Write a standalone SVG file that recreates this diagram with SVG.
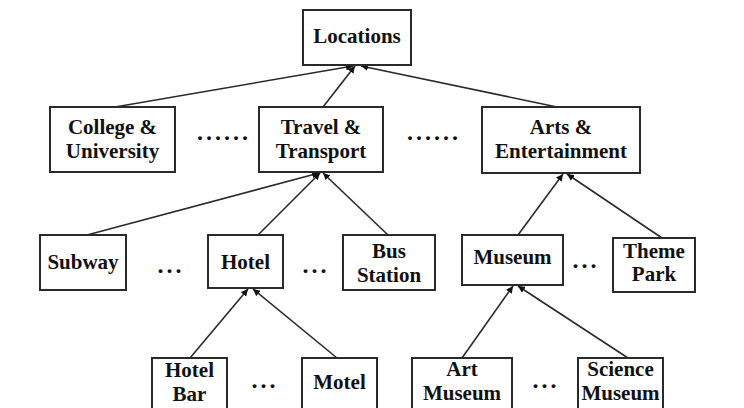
<svg xmlns="http://www.w3.org/2000/svg" width="744" height="408" viewBox="0 0 744 408">
<defs>
<style>
.box{fill:#fff;stroke:#2a2a2a;stroke-width:2}
.t{font-family:"Liberation Serif","Times New Roman",serif;font-weight:bold;font-size:21px;fill:#111;text-anchor:middle}
.dots{font-family:"Liberation Serif","Times New Roman",serif;font-weight:bold;font-size:24px;fill:#111;text-anchor:middle;letter-spacing:3px}
.c{stroke:#2a2a2a;stroke-width:1.6;fill:none;marker-end:url(#ah)}
</style>
<marker id="ah" viewBox="0 0 10 10" refX="10" refY="5" markerWidth="7" markerHeight="7" orient="auto" markerUnits="userSpaceOnUse">
<path d="M0,0 L10,5 L0,10 z" fill="#111"/>
</marker>
</defs>
<rect width="744" height="408" fill="#fff"/>
<g id="connectors">
<line class="c" x1="115" y1="107" x2="353" y2="66"/>
<line class="c" x1="323" y1="107" x2="355" y2="66"/>
<line class="c" x1="557" y1="107" x2="361" y2="66"/>
<line class="c" x1="87" y1="235" x2="319" y2="173"/>
<line class="c" x1="258" y1="235" x2="320" y2="173"/>
<line class="c" x1="388" y1="235" x2="323" y2="173"/>
<line class="c" x1="518" y1="235" x2="563" y2="174"/>
<line class="c" x1="662" y1="238" x2="567" y2="174"/>
<line class="c" x1="190" y1="358" x2="248" y2="289"/>
<line class="c" x1="337" y1="358" x2="253" y2="289"/>
<line class="c" x1="462" y1="358" x2="513" y2="286"/>
<line class="c" x1="628" y1="358" x2="518" y2="286"/>
</g>
<g id="locations"><rect class="box" x="303" y="10" width="108" height="55"/><text class="t" x="357" y="43">Locations</text></g>
<g id="college"><rect class="box" x="50" y="107" width="125" height="65"/><text class="t" x="112.5" y="134">College &amp;</text><text class="t" x="112.5" y="158">University</text></g>
<g id="travel"><rect class="box" x="259" y="107" width="124" height="65"/><text class="t" x="321" y="134">Travel &amp;</text><text class="t" x="321" y="158">Transport</text></g>
<g id="arts"><rect class="box" x="482" y="107" width="158" height="66"/><text class="t" x="561" y="134">Arts &amp;</text><text class="t" x="561" y="158">Entertainment</text></g>
<text class="dots" x="224" y="140">......</text>
<text class="dots" x="434" y="140">......</text>
<g id="subway"><rect class="box" x="40" y="235" width="86" height="55"/><text class="t" x="83" y="269">Subway</text></g>
<g id="hotel"><rect class="box" x="208" y="235" width="75" height="53"/><text class="t" x="245.5" y="269">Hotel</text></g>
<g id="bus"><rect class="box" x="343" y="235" width="92" height="55"/><text class="t" x="389" y="258">Bus</text><text class="t" x="389" y="282">Station</text></g>
<g id="museum"><rect class="box" x="462" y="235" width="101" height="50"/><text class="t" x="512.5" y="264">Museum</text></g>
<g id="theme"><rect class="box" x="613" y="238" width="82" height="54"/><text class="t" x="654" y="258">Theme</text><text class="t" x="654" y="281">Park</text></g>
<text class="dots" x="171" y="273">...</text>
<text class="dots" x="316" y="273">...</text>
<text class="dots" x="586" y="268">...</text>
<g id="hotelbar"><rect class="box" x="152" y="358" width="75" height="55"/><text class="t" x="189.5" y="377">Hotel</text><text class="t" x="189.5" y="401">Bar</text></g>
<g id="motel"><rect class="box" x="302" y="358" width="75" height="55"/><text class="t" x="339.5" y="389">Motel</text></g>
<g id="artmuseum"><rect class="box" x="412" y="358" width="100" height="55"/><text class="t" x="462" y="376">Art</text><text class="t" x="462" y="400">Museum</text></g>
<g id="sciencemuseum"><rect class="box" x="578" y="358" width="85" height="55"/><text class="t" x="620.5" y="376">Science</text><text class="t" x="620.5" y="400">Museum</text></g>
<text class="dots" x="265" y="388">...</text>
<text class="dots" x="546" y="388">...</text>
</svg>
